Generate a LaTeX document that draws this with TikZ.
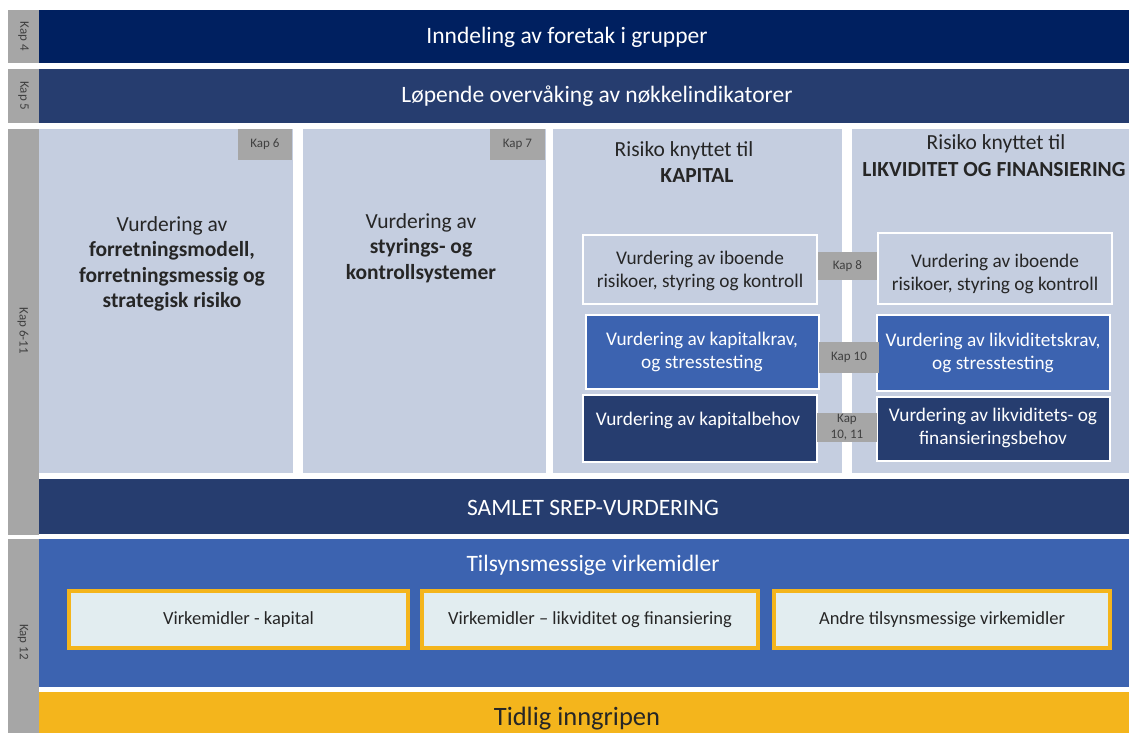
\documentclass[tikz,border=0pt]{standalone}
\usepackage{fontspec}
\setmainfont{Carlito}
\definecolor{navy}{RGB}{0,32,96}
\definecolor{dnavy}{RGB}{38,61,111}
\definecolor{lpanel}{RGB}{197,206,224}
\definecolor{kgray}{RGB}{166,166,166}
\definecolor{mblue}{RGB}{60,99,176}
\definecolor{yel}{RGB}{244,181,28}
\definecolor{pale}{RGB}{226,237,240}
\definecolor{txtd}{RGB}{38,38,38}
\definecolor{tagtxt}{RGB}{64,64,64}
\tikzset{
  blk/.style={rectangle, inner sep=0pt, outer sep=0pt, anchor=north west},
  strip/.style={blk, fill=kgray},
  panel/.style={blk, fill=lpanel},
  tagbox/.style={blk, fill=kgray, text=tagtxt, font=\fontsize{13}{14}\selectfont, align=center},
  subbox/.style={blk, draw=white, line width=1.3pt},
  actbox/.style={blk, draw=yel, fill=pale, line width=4pt, text=txtd, font=\fontsize{18.5}{22}\selectfont},
  striplbl/.style={rotate=-90, text=tagtxt, font=\fontsize{13}{14}\selectfont},
  titletxt/.style={text=white, font=\fontsize{23.5}{27}\selectfont},
  paneltxt/.style={text=txtd, align=center, font=\fontsize{21.5}{25.5}\selectfont},
  subtxt/.style={align=center, font=\fontsize{19.3}{22.5}\selectfont},
}
\begin{document}
\begin{tikzpicture}[x=1pt,y=-1pt]
\useasboundingbox (0,0) rectangle (1130,733);
% left strips
\node[strip, minimum width=31, minimum height=53] (s4) at (8,10) {};
\node[strip, minimum width=31, minimum height=54] (s5) at (8,69) {};
\node[strip, minimum width=31, minimum height=406] (s611) at (8,129) {};
\node[strip, minimum width=31, minimum height=194] (s12) at (8,539) {};
\node[striplbl] (l4) at (s4.center) {Kap 4};
\node[striplbl] (l5) at (s5.center) {Kap 5};
\node[striplbl] (l611) at (23,331) {Kap 6-11};
\node[striplbl] (l12) at (23,642) {Kap 12};
% top bars
\node[blk, fill=navy, minimum width=1090, minimum height=53] (bar4) at (39,10) {};
\node[blk, fill=dnavy, minimum width=1090, minimum height=54] (bar5) at (39,69) {};
\node[titletxt] (t4) at (567,37) {Inndeling av foretak i grupper};
\node[titletxt] (t5) at (597,96) {Løpende overvåking av nøkkelindikatorer};
% panels
\node[panel, minimum width=254, minimum height=344] (p1) at (39,129) {};
\node[panel, minimum width=243, minimum height=344] (p2) at (303,129) {};
\node[panel, minimum width=289, minimum height=344] (p3) at (553,129) {};
\node[panel, minimum width=277, minimum height=344] (p4) at (852,129) {};
\node[tagbox, minimum width=54, minimum height=31] (k6) at (238,129) {Kap 6};
\node[tagbox, minimum width=55, minimum height=31] (k7) at (490,129) {Kap 7};
\node[paneltxt] (p1t) at (172,264) {Vurdering av\\\textbf{forretningsmodell,}\\\textbf{forretningsmessig og}\\\textbf{strategisk risiko}};
\node[paneltxt] (p2t) at (421,248) {Vurdering av\\\textbf{styrings- og}\\\textbf{kontrollsystemer}};
\node[paneltxt] (p3a) at (684,151) {Risiko knyttet til};
\node[paneltxt] (p3b) at (697,176) {\textbf{KAPITAL}};
\node[paneltxt] (p4a) at (996,144) {Risiko knyttet til};
\node[paneltxt] (p4b) at (994,170) {\textbf{LIKVIDITET OG FINANSIERING}};
% sub boxes
\node[subbox, fill=lpanel, minimum width=234, minimum height=69] (ba) at (583,235) {};
\node[subbox, fill=lpanel, minimum width=234, minimum height=71] (bb) at (878,233) {};
\node[subbox, fill=mblue, minimum width=233, minimum height=74] (bc) at (586,315) {};
\node[subbox, fill=mblue, minimum width=233, minimum height=76] (bd) at (877,315) {};
\node[subbox, fill=dnavy, minimum width=234, minimum height=67] (be) at (583,395) {};
\node[subbox, fill=dnavy, minimum width=233, minimum height=64] (bf) at (877,397) {};
\node[subtxt, text=txtd] (bat) at (700,271) {Vurdering av iboende\\risikoer, styring og kontroll};
\node[subtxt, text=txtd] (bbt) at (995,274) {Vurdering av iboende\\risikoer, styring og kontroll};
\node[subtxt, text=white] (bct) at (702,352) {Vurdering av kapitalkrav,\\og stresstesting};
\node[subtxt, text=white] (bdt) at (993,353) {Vurdering av likviditetskrav,\\og stresstesting};
\node[subtxt, text=white] (bet) at (698,420) {Vurdering av kapitalbehov};
\node[subtxt, text=white] (bft) at (993,428) {Vurdering av likviditets- og\\finansieringsbehov};
\node[tagbox, minimum width=59, minimum height=28] (k8) at (818,252) {Kap 8};
\node[tagbox, minimum width=60, minimum height=31] (k10) at (819,342) {Kap 10};
\node[tagbox, minimum width=60, minimum height=29, font=\fontsize{13}{16}\selectfont] (k1011) at (817,413) {Kap\\10, 11};
% SREP
\node[blk, fill=dnavy, minimum width=1090, minimum height=55] (srep) at (39,479) {};
\node[titletxt] (srept) at (593,508) {SAMLET SREP-VURDERING};
% Kap 12
\node[blk, fill=mblue, minimum width=1090, minimum height=148] (tils) at (39,539) {};
\node[titletxt] (tilst) at (593,565) {Tilsynsmessige virkemidler};
\node[actbox, minimum width=339, minimum height=57] (v1) at (69,591) {};
\node[actbox, minimum width=336, minimum height=57] (v2) at (422,591) {};
\node[actbox, minimum width=336, minimum height=57] (v3) at (774,591) {};
\node[text=txtd, font=\fontsize{18.5}{22}\selectfont] (v1t) at (v1.center) {Virkemidler - kapital};
\node[text=txtd, font=\fontsize{18.5}{22}\selectfont] (v2t) at (v2.center) {Virkemidler – likviditet og finansiering};
\node[text=txtd, font=\fontsize{18.5}{22}\selectfont] (v3t) at (v3.center) {Andre tilsynsmessige virkemidler};
\node[blk, fill=yel, minimum width=1090, minimum height=41] (tidl) at (39,692) {};
\node[text=black!85, font=\fontsize{26.5}{29}\selectfont] (tidlt) at (577,719) {Tidlig inngripen};
\end{tikzpicture}
\end{document}
